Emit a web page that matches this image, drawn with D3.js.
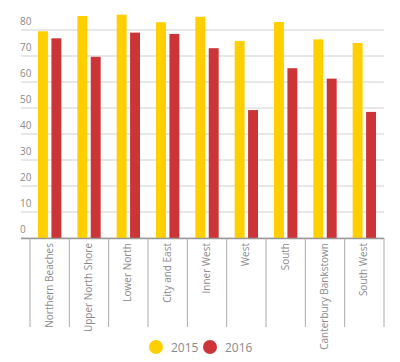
<!DOCTYPE html>
<html lang="en">
<head>
  <meta charset="UTF-8">
  <title>Regions 2015 vs 2016</title>
  <script src="https://d3js.org/d3.v7.min.js"></script>
  <style>
    body { margin: 0; background: #fff; }
    svg text { font-family: "Liberation Sans Narrow", "Open Sans", sans-serif; fill: #8a8a8a; }
  </style>
</head>
<body>
  <svg width="400" height="362"></svg>
  <script>
    const regions = ["Northern Beaches", "Upper North Shore", "Lower North", "City and East",
      "Inner West", "West", "South", "Canterbury Bankstown", "South West"];
    const values2015 = [79.5, 85.4, 85.9, 83, 85.1, 75.8, 83.1, 76.4, 75];
    const values2016 = [76.8, 69.7, 79, 78.5, 73, 49.2, 65.3, 61.3, 48.5];
    const years = ["2015", "2016"];
    const yTicks = [0, 10, 20, 30, 40, 50, 60, 70, 80];
    const colors = ["#ffcf00", "#cc3538"];

    const svg = d3.select("svg");
    const x = d3.scaleBand().domain(regions).range([30, 384]);
    const y = d3.scaleLinear().domain([0, 80]).range([238, 30]);
    const inner = d3.scaleBand().domain(years).range([8, x.bandwidth() - 8]).paddingInner(0.26);

    // gridlines + labels
    svg.append("g").selectAll("line").data(yTicks).join("line")
      .attr("x1", 21).attr("x2", 384)
      .attr("y1", d => y(d)).attr("y2", d => y(d))
      .attr("stroke", "#d0d0d0").attr("stroke-width", 1);
    svg.append("g").selectAll("text").data(yTicks).join("text")
      .attr("x", 20).attr("y", d => y(d) - 5)
      .attr("font-size", 10)
      .text(d => d);

    // bars
    const rows = regions.map((r, i) => ({ region: r, vals: [values2015[i], values2016[i]] }));
    const groups = svg.append("g").selectAll("g").data(rows).join("g")
      .attr("transform", d => `translate(${x(d.region)},0)`);
    groups.selectAll("rect").data(d => d.vals.map((v, j) => ({ year: years[j], v }))).join("rect")
      .attr("x", d => inner(d.year))
      .attr("width", inner.bandwidth())
      .attr("y", d => y(d.v))
      .attr("height", d => y(0) - y(d.v))
      .attr("fill", (d, j) => colors[j]);

    // x axis line and separators
    svg.append("line").attr("x1", 21).attr("x2", 384).attr("y1", 238.5).attr("y2", 238.5)
      .attr("stroke", "#999").attr("stroke-width", 1.5);
    const seps = regions.map(r => x(r)).concat([x.range()[1]]);
    svg.append("g").selectAll("line").data(seps).join("line")
      .attr("x1", d => d).attr("x2", d => d)
      .attr("y1", 238).attr("y2", 327)
      .attr("stroke", "#aaa").attr("stroke-width", 1);

    // category labels
    svg.append("g").selectAll("text").data(regions).join("text")
      .attr("transform", d => `translate(${x(d) + x.bandwidth() / 2 + 3},243) rotate(-90)`)
      .attr("text-anchor", "end")
      .attr("font-size", 10)
      .text(d => d);

    // legend
    const legend = svg.append("g").selectAll("g").data(years).join("g")
      .attr("transform", (d, i) => `translate(${156 + i * 54},347)`);
    legend.append("circle").attr("r", 7).attr("fill", (d, i) => colors[i]);
    legend.append("text").attr("x", 15).attr("y", 4.5).attr("font-size", 12).text(d => d);
  </script>
</body>
</html>
